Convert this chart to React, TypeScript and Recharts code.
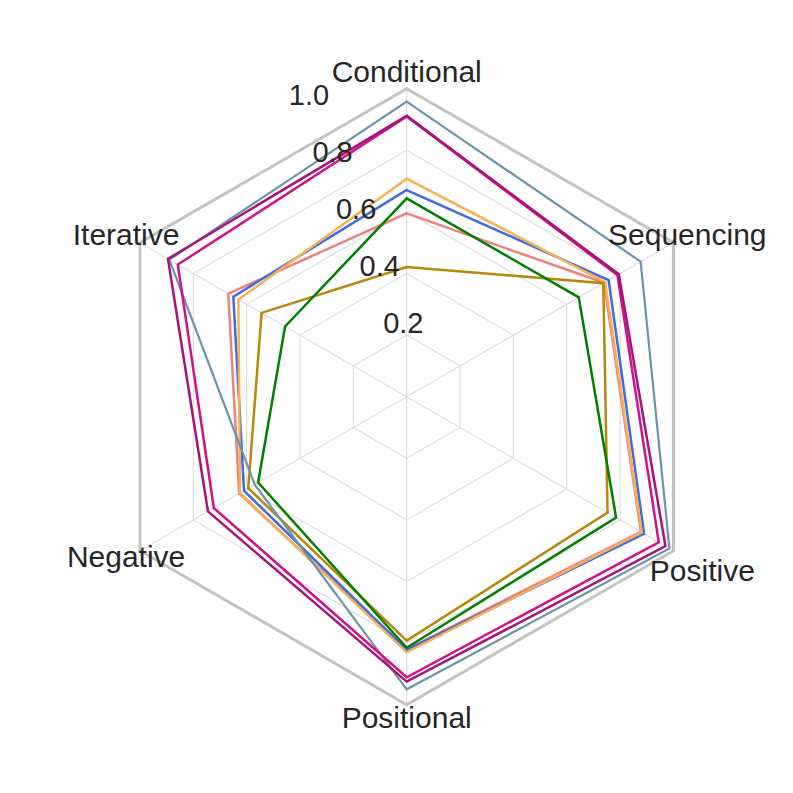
import React from "react";
import { RadarChart, Radar, PolarGrid, PolarAngleAxis, PolarRadiusAxis } from "recharts";

// categories, clockwise from the top
const skills = ["Conditional", "Sequencing", "Positive", "Positional", "Negative", "Iterative"];
const radiusTicks = [0.2, 0.4, 0.6, 0.8, 1.0];

// one score per skill, same order as `skills`
const seriesSalmon = [0.595, 0.74, 0.878, 0.82, 0.628, 0.669];
const seriesBlue = [0.671, 0.757, 0.89, 0.822, 0.61, 0.65];
const seriesOrange = [0.708, 0.744, 0.881, 0.83, 0.625, 0.631];
const seriesGold = [0.421, 0.737, 0.753, 0.792, 0.594, 0.544];
const seriesGreen = [0.644, 0.645, 0.785, 0.815, 0.557, 0.456];
const seriesTeal = [0.958, 0.877, 0.985, 0.95, 0.57, 0.89];
const seriesMagentaInner = [0.91, 0.79, 0.945, 0.911, 0.723, 0.858];
const seriesMagentaOuter = [0.912, 0.795, 0.97, 0.925, 0.745, 0.895];

const SERIES = [
  { key: "s1", values: seriesSalmon, color: "#F08080", width: 2.5 },
  { key: "s2", values: seriesBlue, color: "#4169E1", width: 2.5 },
  { key: "s3", values: seriesOrange, color: "#F8B150", width: 2.5 },
  { key: "s4", values: seriesGold, color: "#B8860B", width: 2.5 },
  { key: "s5", values: seriesGreen, color: "#008000", width: 2.5 },
  { key: "s6", values: seriesTeal, color: "#6B95A6", width: 2.2 },
  { key: "s7", values: seriesMagentaInner, color: "#D0128A", width: 2.5 },
  { key: "s8", values: seriesMagentaOuter, color: "#A8127A", width: 2.5 },
];

const data = skills.map((skill, i) => {
  const row: any = { skill };
  SERIES.forEach((s) => (row[s.key] = s.values[i]));
  return row;
});

const W = 793;
const H = 793;
const CX = 406.7;
const CY = 396.7;
const R = 308;
const TEXT = "#262626";
const FONT = "'Liberation Sans', Arial, sans-serif";

// small hand nudges for the category labels
const LABEL_NUDGE: Record<string, [number, number]> = {
  Positive: [15, 12],
  Positional: [0, -3],
  Negative: [0, -2],
  Conditional: [0, -1],
};

const AngleTick = (props: any) => {
  const { x, y, payload } = props;
  const [dx, dy] = LABEL_NUDGE[payload.value] || [0, 0];
  return (
    <text x={x + dx} y={y + dy} textAnchor="middle" dominantBaseline="central" fontSize={30} fill={TEXT} fontFamily={FONT}>
      {payload.value}
    </text>
  );
};

const RadiusTick = (props: any) => {
  const { x, y, payload } = props;
  if (!payload.value) return null;
  return (
    <text x={x} y={y - 7} textAnchor="start" fontSize={29} fill={TEXT} fontFamily={FONT}>
      {Number(payload.value).toFixed(1)}
    </text>
  );
};

export default function App() {
  return (
    <div style={{ position: "absolute", left: 0, top: 0, width: W, height: H, background: "#fff" }}>
      <RadarChart width={W} height={H} data={data} cx={CX} cy={CY} outerRadius={R} margin={{ top: 0, right: 0, bottom: 0, left: 0 }}>
        <PolarGrid gridType="polygon" polarRadius={radiusTicks.map((t) => t * R)} stroke="#dedede" strokeWidth={1.2} />
        <PolarGrid gridType="polygon" polarRadius={[R]} radialLines={false} stroke="#c4c4c4" strokeWidth={3} />
        <PolarAngleAxis dataKey="skill" tick={<AngleTick />} tickLine={false} axisLine={false} tickSize={16} />
        {SERIES.map((s) => (
          <Radar
            key={s.key}
            dataKey={s.key}
            stroke={s.color}
            strokeWidth={s.width}
            fill="none"
            fillOpacity={0}
            dot={false}
            isAnimationActive={false}
          />
        ))}
        <PolarRadiusAxis
          angle={112.5}
          domain={[0, 1]}
          ticks={radiusTicks as any}
          tickCount={6}
          axisLine={false}
          tickLine={false}
          tick={<RadiusTick />}
        />
      </RadarChart>
    </div>
  );
}
